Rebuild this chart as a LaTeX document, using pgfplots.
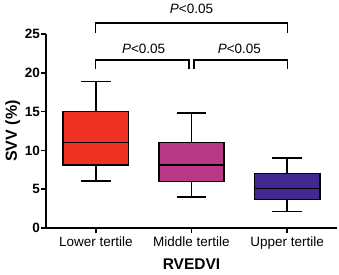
\documentclass[border=0pt]{standalone}
\usepackage{pgfplots}
\pgfplotsset{compat=1.18}
\usepgfplotslibrary{statistics}
\usepackage{fontspec}
\setmainfont{Liberation Sans}
\definecolor{cred}{RGB}{240,50,35}
\definecolor{cpink}{RGB}{186,56,136}
\definecolor{cpurple}{RGB}{66,40,145}
\begin{document}
\begin{tikzpicture}
\useasboundingbox (-46pt,-46pt) rectangle (293pt,228pt);
\begin{axis}[
  at={(0,0)}, anchor=south west,
  scale only axis, width=291pt, height=194pt,
  xmin=-0.52, xmax=2.52, ymin=0, ymax=25,
  axis lines=left, axis line style={-, line width=1.8pt},
  xtick={0,1,2}, xticklabels={Lower tertile, Middle tertile, Upper tertile},
  ytick={0,5,...,25},
  tick align=outside, major tick length=5pt, tick style={line width=1.5pt, black},
  /pgf/number format/assume math mode=true,
  yticklabel style={font=\fontsize{13.5}{13.5}\selectfont\bfseries, inner sep=1pt},
  xticklabel style={font=\fontsize{13.5}{13.5}\selectfont},
  ylabel={SVV (\%)}, xlabel={RVEDVI},
  ylabel style={font=\fontsize{16}{16}\selectfont\bfseries},
  xlabel style={font=\fontsize{15.5}{15.5}\selectfont\bfseries, yshift=-3pt},
  boxplot/draw direction=y,
  clip=false,
]
\addplot[boxplot prepared={draw position=0, lower whisker=6.05, lower quartile=8.1, median=11, upper quartile=15, upper whisker=18.9, box extend=0.68, whisker extend=0.31}, boxplot/every median/.style={line width=1.5pt, draw=black}, fill=cred, draw=black, line width=1.5pt] coordinates {};
\addplot[boxplot prepared={draw position=1, lower whisker=4.0, lower quartile=6.0, median=8.1, upper quartile=11.0, upper whisker=14.8, box extend=0.68, whisker extend=0.31}, boxplot/every median/.style={line width=1.5pt, draw=black}, fill=cpink, draw=black, line width=1.5pt] coordinates {};
\addplot[boxplot prepared={draw position=2, lower whisker=2.1, lower quartile=3.7, median=5.1, upper quartile=7.05, upper whisker=9.0, box extend=0.68, whisker extend=0.31}, boxplot/every median/.style={line width=1.5pt, draw=black}, fill=cpurple, draw=black, line width=1.5pt] coordinates {};
\draw[line width=1.3pt] (axis cs:0,25.1) -- (axis cs:0,26.4) -- (axis cs:2,26.4) -- (axis cs:2,25.1);
\node[anchor=base, inner sep=0pt, yshift=10pt, font=\fontsize{13.5}{13.5}\selectfont] at (axis cs:1,26.4) {\textit{P}<0.05};
\draw[line width=1.3pt] (axis cs:0,20.5) -- (axis cs:0,21.65) -- (axis cs:0.974,21.65) -- (axis cs:0.974,20.5);
\draw[line width=1.3pt] (axis cs:1.026,20.5) -- (axis cs:1.026,21.65) -- (axis cs:2,21.65) -- (axis cs:2,20.5);
\node[anchor=base, inner sep=0pt, yshift=6.5pt, font=\fontsize{13.5}{13.5}\selectfont] at (axis cs:0.5,21.65) {\textit{P}<0.05};
\node[anchor=base, inner sep=0pt, yshift=6.5pt, font=\fontsize{13.5}{13.5}\selectfont] at (axis cs:1.5,21.65) {\textit{P}<0.05};
\end{axis}
\end{tikzpicture}
\end{document}
